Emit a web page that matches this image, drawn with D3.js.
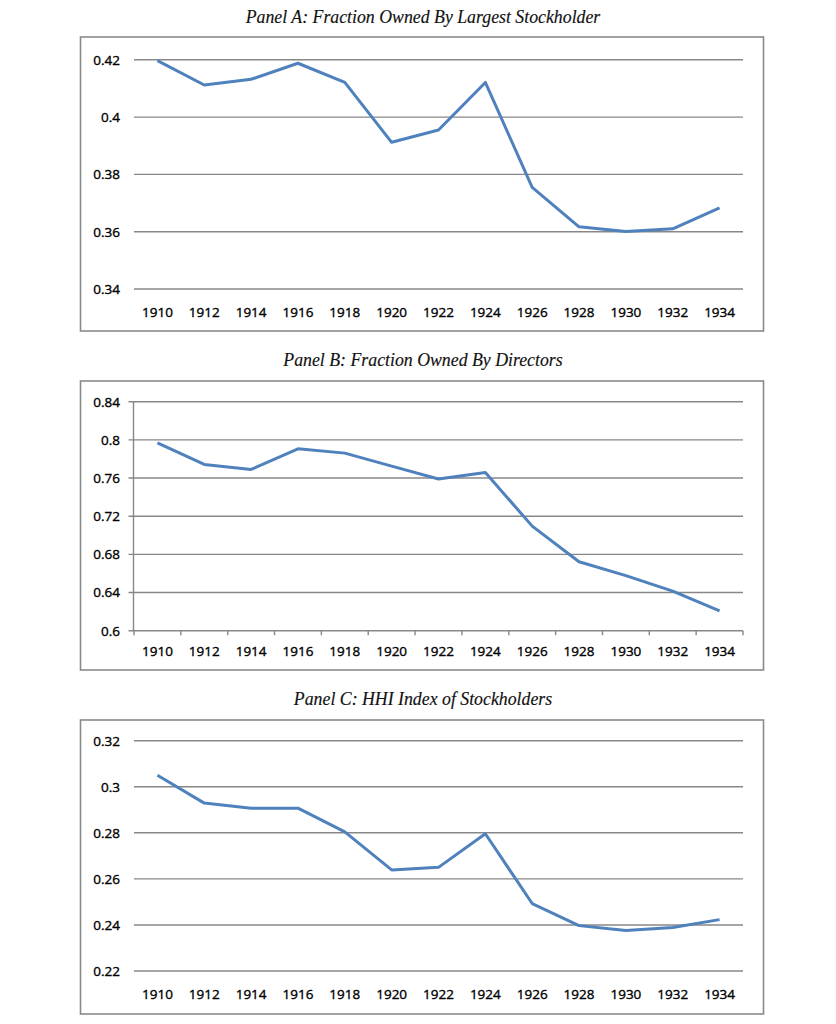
<!DOCTYPE html>
<html><head><meta charset="utf-8">
<script src="https://cdn.jsdelivr.net/npm/d3@7"></script>
<style>body{margin:0;background:#fff}svg{display:block}</style>
</head><body>
<svg id="c" width="836" height="1024"></svg>
<script>
const years = ["1910","1912","1914","1916","1918","1920","1922","1924","1926","1928","1930","1932","1934"];
const largestHolder = [0.4197,0.4112,0.4132,0.4188,0.4121,0.3912,0.3955,0.4121,0.3755,0.3617,0.3601,0.3610,0.3683];
const directors = [0.7969,0.7742,0.7690,0.7906,0.7861,0.7725,0.7590,0.7659,0.7096,0.6723,0.6577,0.6414,0.6208];
const hhi = [0.3050,0.2929,0.2907,0.2907,0.2804,0.2639,0.2650,0.2796,0.2493,0.2397,0.2376,0.2389,0.2423];
const ticksA = [0.34,0.36,0.38,0.40,0.42];
const ticksB = [0.60,0.64,0.68,0.72,0.76,0.80,0.84];
const ticksC = [0.22,0.24,0.26,0.28,0.30,0.32];
const titles = ["Panel A: Fraction Owned By Largest Stockholder","Panel B: Fraction Owned By Directors","Panel C: HHI Index of Stockholders"];

const svg = d3.select("#c");
const panels = [
  {title:titles[0], vals:largestHolder, ticks:ticksA, dom:[0.34,0.42], titleY:23, box:[37,331], plot:[59.8,289], labelY:317, axis:false},
  {title:titles[1], vals:directors, ticks:ticksB, dom:[0.60,0.84], titleY:366, box:[381,670], plot:[401.7,630.7], labelY:656, axis:true},
  {title:titles[2], vals:hhi, ticks:ticksC, dom:[0.22,0.32], titleY:705, box:[720,1014], plot:[740.7,971], labelY:998.5, axis:false}
];
const fmt = d => String(+d.toFixed(2));
const x = d3.scaleBand().domain(years).range([134,743]);

panels.forEach(p=>{
  const g = svg.append("g");
  g.append("text").attr("x",423).attr("y",p.titleY).attr("text-anchor","middle")
    .attr("font-family","'Liberation Serif',serif").attr("font-style","italic").attr("font-size",17.8)
    .attr("fill","#111").attr("stroke","#111").attr("stroke-width",0.15).text(p.title);
  g.append("rect").attr("x",80.5).attr("y",p.box[0]).attr("width",683).attr("height",p.box[1]-p.box[0])
    .attr("fill","none").attr("stroke","#8a8a8a").attr("stroke-width",1.6);
  const y = d3.scaleLinear().domain(p.dom).range([p.plot[1],p.plot[0]]);
  const gx0 = p.axis ? 128.5 : 134;
  g.selectAll(".grid").data(p.ticks).join("line")
    .attr("x1",gx0).attr("x2",743).attr("y1",d=>y(d)).attr("y2",d=>y(d))
    .attr("stroke","#878787").attr("stroke-width",1.4);
  g.selectAll(".yl").data(p.ticks).join("text")
    .attr("x",120).attr("y",d=>y(d)).attr("dy","0.36em").attr("text-anchor","end")
    .attr("font-family","'Open Sans',sans-serif").attr("font-size",13.5).attr("fill","#000")
    .attr("stroke","#000").attr("stroke-width",0.35).text(fmt);
  if(p.axis){
    g.append("line").attr("x1",133.5).attr("x2",133.5).attr("y1",p.plot[0]).attr("y2",p.plot[1])
      .attr("stroke","#878787").attr("stroke-width",1.4);
    const edges = years.map(d=>x(d)).concat([x(years[years.length-1])+x.bandwidth()]);
    g.selectAll(".xt").data(edges).join("line")
      .attr("x1",d=>d).attr("x2",d=>d).attr("y1",p.plot[1]).attr("y2",p.plot[1]+4.5)
      .attr("stroke","#878787").attr("stroke-width",1.4);
  }
  g.selectAll(".xl").data(years).join("text")
    .attr("x",d=>x(d)+x.bandwidth()/2).attr("y",p.labelY).attr("text-anchor","middle")
    .attr("font-family","'Open Sans',sans-serif").attr("font-size",13.5).attr("fill","#000")
    .attr("stroke","#000").attr("stroke-width",0.35).text(d=>d);
  const line = d3.line().x((d,i)=>x(years[i])+x.bandwidth()/2).y(d=>y(d));
  g.append("path").datum(p.vals).attr("d",line).attr("fill","none")
    .attr("stroke","#4F81BD").attr("stroke-width",3).attr("stroke-linejoin","round");
});
</script>
</body></html>
